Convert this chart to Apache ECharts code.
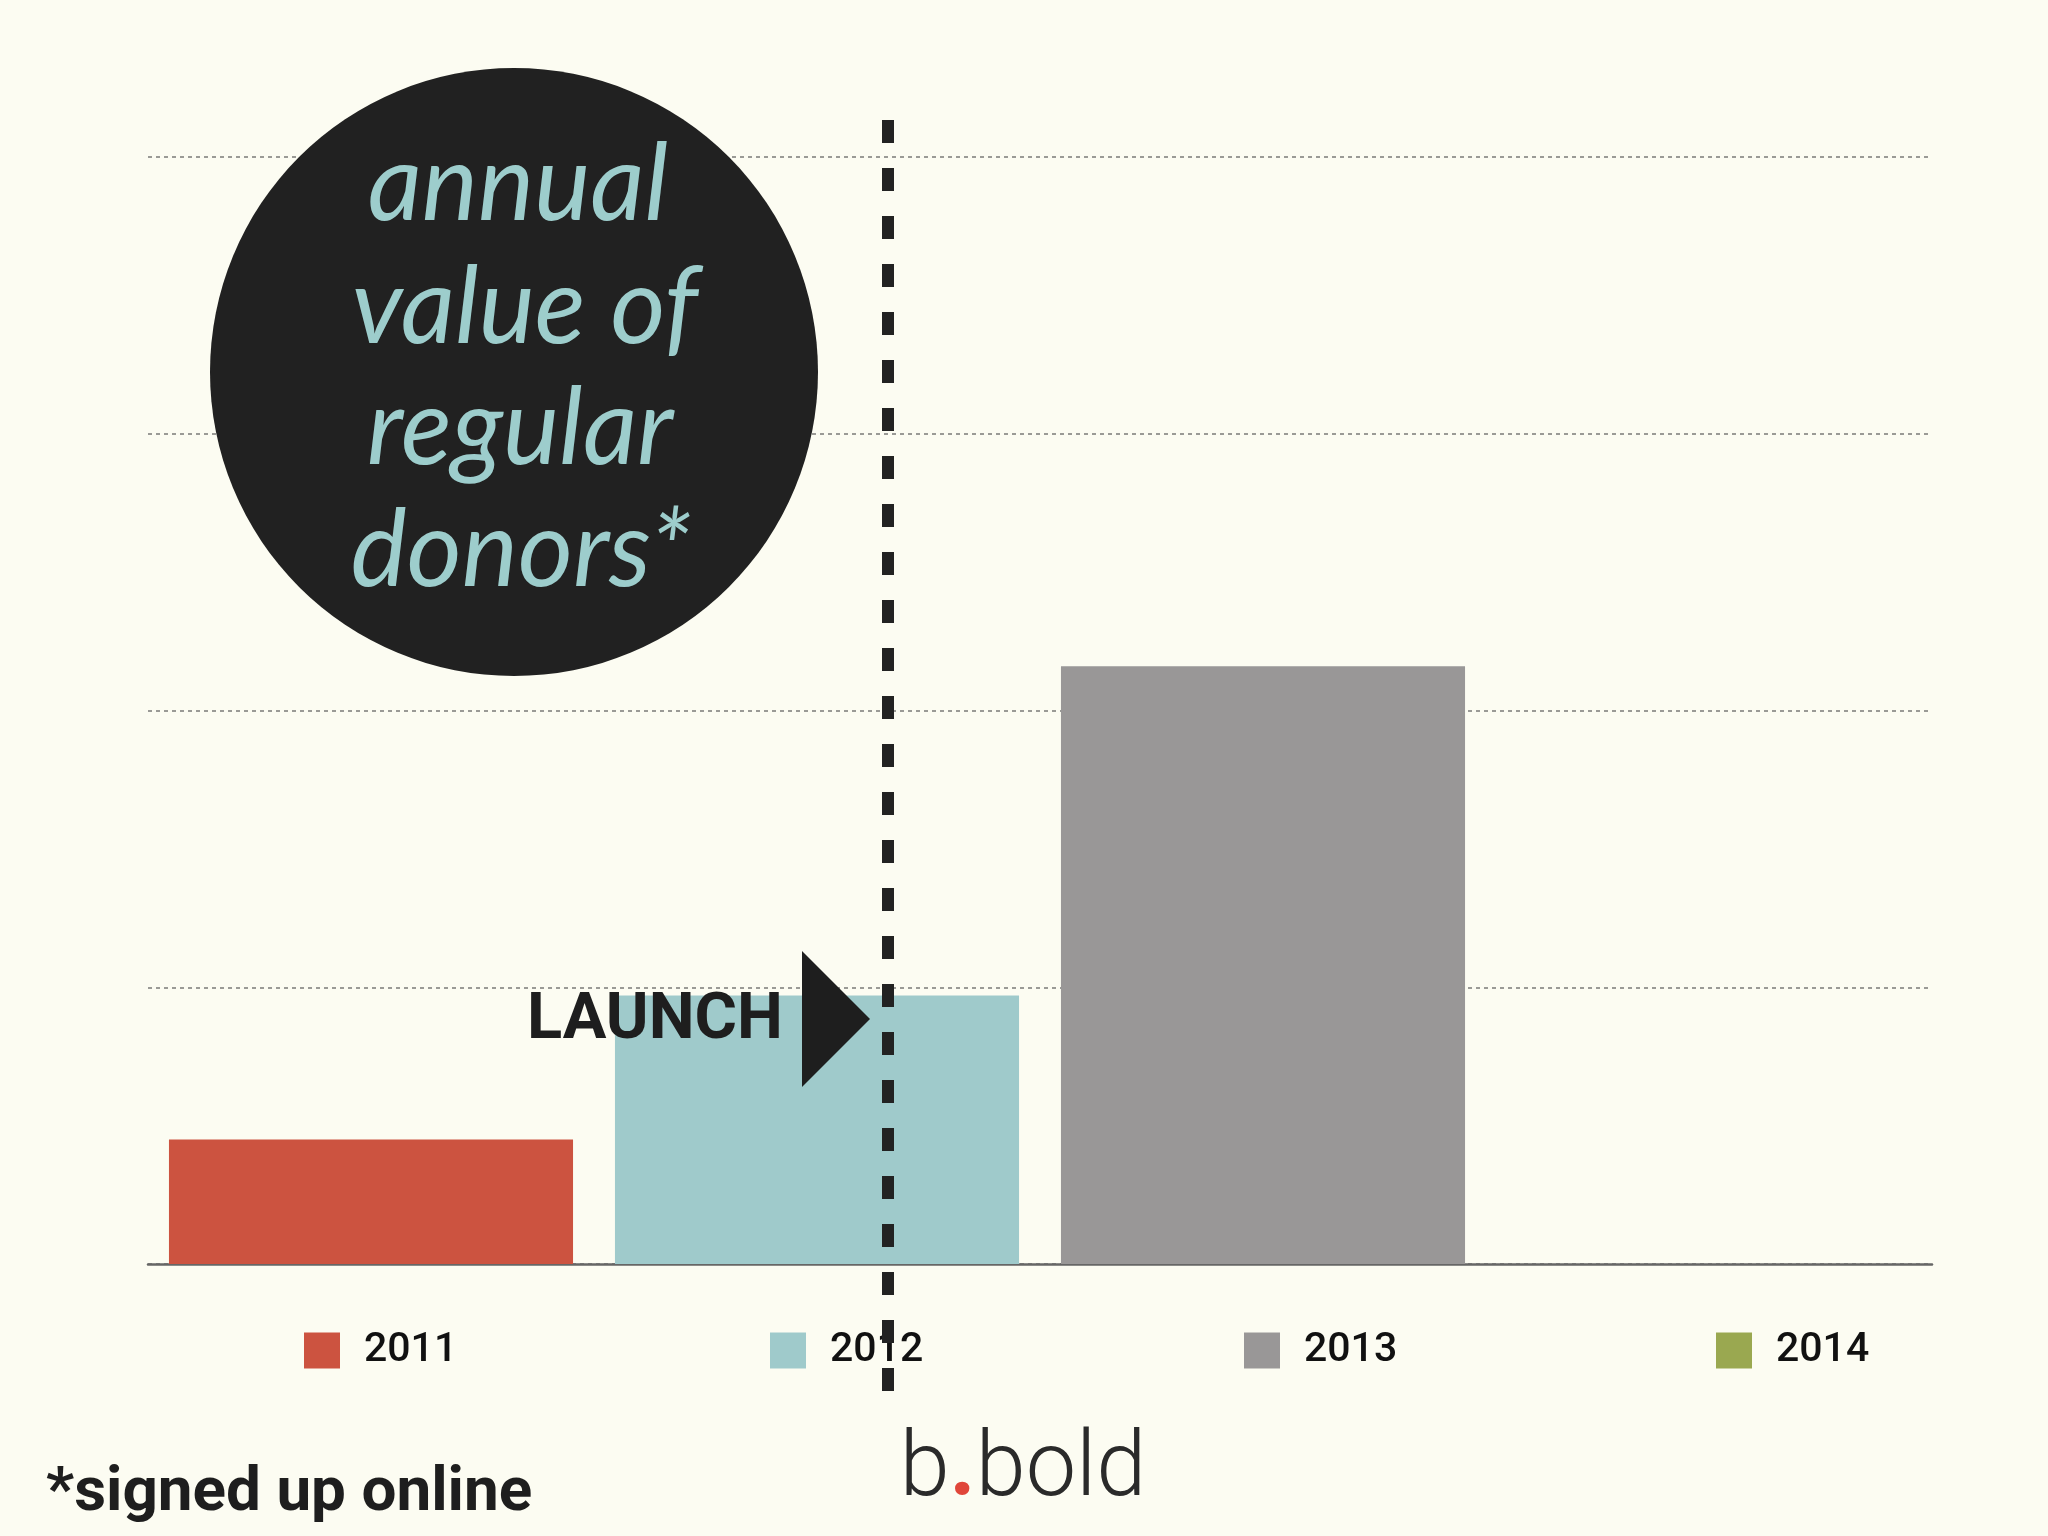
<!DOCTYPE html>
<html>
<head>
<meta charset="utf-8">
<script src="https://cdn.jsdelivr.net/npm/echarts@6/dist/echarts.min.js"></script>
<style>
html,body{margin:0;padding:0;background:#fcfcf2;}
#chart{width:2048px;height:1536px;}
</style>
</head>
<body>
<div id="chart"></div>
<script>
// ---- data ----
const categories = ['2011', '2012', '2013', '2014'];
const values = [0.45, 0.97, 2.16, 0];
const yTicks = [0, 1, 2, 3, 4];
const titleLines = ['annual', 'value of', 'regular', 'donors*'];
const annotationText = 'LAUNCH';
const footnoteText = '*signed up online';

// ---- styles ----
const colors = ['#cc5340', '#9fcacb', '#999797', '#9aa850'];
const legendLeft = [304, 770, 1244, 1716];

const chart = echarts.init(document.getElementById('chart'), null, {renderer: 'canvas'});

const series = categories.map((c, i) => ({
  name: c,
  type: 'bar',
  data: categories.map((cc, j) => (j === i ? values[i] : null)),
  barWidth: '90.6%',
  barGap: '-100%',
  itemStyle: {color: colors[i]},
  silent: true
}));

const legends = categories.map((c, i) => ({
  data: [c],
  left: legendLeft[i],
  top: 1330,
  padding: 0,
  orient: 'horizontal',
  itemWidth: 36,
  itemHeight: 36,
  icon: 'rect',
  selectedMode: false,
  textStyle: {
    fontFamily: 'Roboto',
    fontWeight: 500,
    fontSize: 41,
    color: '#111',
    padding: [0, 0, 0, 19]
  }
}));

const titleYs = [186, 309, 430, 552];
const titleXs = [518, 525, 520, 521];

const graphics = [
  {type: 'circle', shape: {cx: 514, cy: 372, r: 304}, style: {fill: '#212121'}, z: 100},
  ...titleLines.map((t, i) => ({
    type: 'text', x: titleXs[i], y: titleYs[i], z: 101,
    style: {
      text: t, fill: '#9dcdcc',
      font: 'italic 400 106px Lato, "Open Sans", sans-serif',
      align: 'center', verticalAlign: 'middle'
    }
  })),
  {type: 'text', x: 783, y: 1022, z: 101,
    style: {text: annotationText, fill: '#1e1e1e', font: 'bold 65px Roboto, sans-serif',
      align: 'right', verticalAlign: 'middle'}},
  {type: 'polygon', shape: {points: [[802, 951], [870, 1019], [802, 1087]]}, style: {fill: '#1e1e1e'}, z: 101},
  {type: 'line', shape: {x1: 888, y1: 120, x2: 888, y2: 1391}, z: 110,
    style: {stroke: '#222', lineWidth: 12, lineDash: [23, 25], lineCap: 'butt'}},
  {type: 'text', x: 46, y: 1494, z: 101,
    style: {text: footnoteText, fill: '#1e1e1e', font: 'bold 62px Roboto, sans-serif',
      align: 'left', verticalAlign: 'middle'}},
  {type: 'text', x: 1023, y: 1472, z: 101,
    style: {
      text: '{a|b}{r|.}{a|bold}',
      align: 'center', verticalAlign: 'middle',
      rich: {
        a: {font: '300 90px Roboto, sans-serif', fill: '#2a2a2a'},
        r: {font: 'bold 90px Roboto, sans-serif', fill: '#e0463a'}
      }
    }}
];

chart.setOption({
  backgroundColor: '#fcfcf2',
  animation: false,
  grid: {left: 148, right: 116, top: 157, bottom: 272, containLabel: false},
  legend: legends,
  xAxis: {
    type: 'category',
    data: categories,
    axisLine: {show: true, lineStyle: {color: '#666', width: 2.5}},
    axisTick: {show: false},
    axisLabel: {show: false},
    splitLine: {show: false}
  },
  yAxis: {
    type: 'value',
    min: yTicks[0],
    max: yTicks[yTicks.length - 1],
    interval: 1,
    axisLine: {show: false},
    axisTick: {show: false},
    axisLabel: {show: false},
    splitLine: {show: true, lineStyle: {color: '#9a9a96', width: 2, type: [4, 4]}}
  },
  series: series,
  graphic: graphics
});
</script>
</body>
</html>
